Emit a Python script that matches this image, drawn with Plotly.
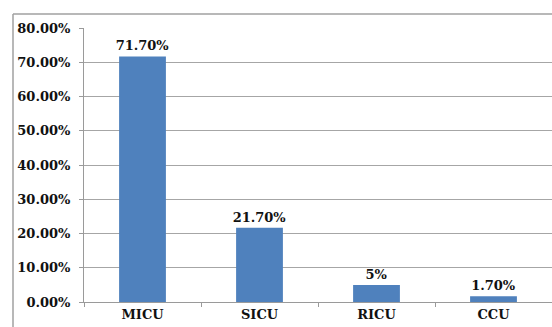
import plotly.graph_objects as go

categories = ["MICU", "SICU", "RICU", "CCU"]
values = [71.7, 21.7, 5.0, 1.7]
labels = ["71.70%", "21.70%", "5%", "1.70%"]
tick_vals = [0, 10, 20, 30, 40, 50, 60, 70, 80]
tick_text = ["0.00%", "10.00%", "20.00%", "30.00%", "40.00%", "50.00%", "60.00%", "70.00%", "80.00%"]

W, H = 552, 327
L, R, T, B = 84, 0, 28, 25
pw, ph = W - L - R, H - T - B

FAM = "DejaVu Serif"
SZ = 13
font = dict(family=FAM, size=SZ, color="#111111")

fig = go.Figure(go.Bar(
    x=categories, y=values, text=[f"<b>{t}</b>" for t in labels], textposition="outside",
    texttemplate="%{text}", constraintext="none",
    textfont=dict(family=FAM, size=SZ, color="#111111"),
    marker=dict(color="#4F81BD", line=dict(width=0)),
    width=0.4, cliponaxis=False,
))

fig.update_layout(
    width=W, height=H,
    margin=dict(l=L, r=R, t=T, b=B),
    paper_bgcolor="white", plot_bgcolor="white",
    font=font, showlegend=False,
    xaxis=dict(showline=True, linecolor="#9a9a9a", linewidth=1,
               ticks="outside", ticklen=4, tickcolor="#9a9a9a", tickson="boundaries",
               tickvals=categories, ticktext=[f"<b>{c}</b>" for c in categories],
               tickfont=dict(family=FAM, size=SZ, color="#111111"),
               showgrid=False, range=[-0.5, 3.5]),
    yaxis=dict(range=[0, 80], tickvals=tick_vals, ticktext=[f"<b>{t}</b>" for t in tick_text],
               showline=True, linecolor="#9a9a9a", linewidth=1,
               ticks="outside", ticklen=4, tickcolor="#9a9a9a",
               showgrid=True, gridcolor="#a6a6a6", gridwidth=1,
               tickfont=dict(family=FAM, size=SZ, color="#111111"),
               ticklabelstandoff=6,
               zeroline=False),
)

# Outer chart border: only top and left edges are visible in the view
bx = (13 - L) / pw
by = (H - B - 14) / ph
fig.add_shape(type="line", xref="paper", yref="paper", x0=bx, x1=1.0, y0=by, y1=by,
              line=dict(color="#a0a0a0", width=1.5))
fig.add_shape(type="line", xref="paper", yref="paper", x0=bx, x1=bx, y0=by, y1=-B / ph,
              line=dict(color="#a0a0a0", width=1.5))

fig.write_html("out.html")
